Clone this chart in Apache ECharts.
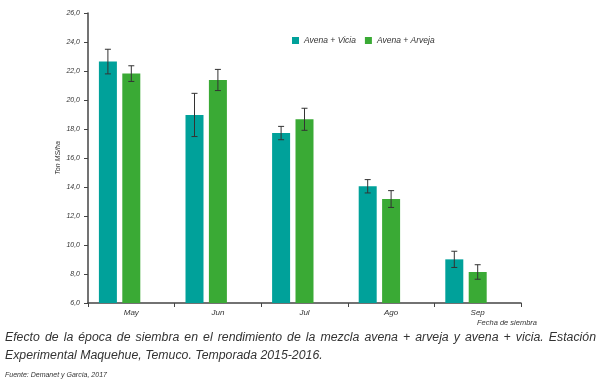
<!DOCTYPE html>
<html><head><meta charset="utf-8">
<script src="https://cdn.jsdelivr.net/npm/echarts@6/dist/echarts.min.js"></script>
<style>html,body{margin:0;padding:0;background:#fff}#c{width:600px;height:386px}</style>
</head><body><div id="c"></div>
<script>
const categories = ['May', 'Jun', 'Jul', 'Ago', 'Sep'];
const seriesNames = ['Avena + Vicia', 'Avena + Arveja'];
const vicia = [22.65, 18.97, 17.72, 14.05, 9.01];
const viciaErr = [0.85, 1.49, 0.46, 0.46, 0.56];
const arveja = [21.82, 21.38, 18.67, 13.17, 8.14];
const arvejaErr = [0.54, 0.73, 0.76, 0.58, 0.5];
const yTicks = { min: 6, max: 26, interval: 2 };
const xTitle = 'Fecha de siembra';
const yTitle = 'Ton MS/ha';
const captionLines = ['Efecto de la época de siembra en el rendimiento de la mezcla avena + arveja y avena + vicia. Estación', 'Experimental Maquehue, Temuco. Temporada 2015-2016.'];
const sourceText = 'Fuente: Demanet y García, 2017';

const FONT = '"Liberation Sans", Arial, sans-serif';
const TEAL = '#00a19a', GREEN = '#3aaa35', INK = '#333333';
const chart = echarts.init(document.getElementById('c'), null, { renderer: 'canvas' });

function errData(vals, errs) { return vals.map((v, i) => [i, v - errs[i], v + errs[i]]); }
function errSeries(vals, errs, offset) {
  return {
    type: 'custom', silent: true, z: 5,
    data: errData(vals, errs),
    encode: { x: 0, y: [1, 2] },
    renderItem: function (params, api) {
      const lo = api.coord([api.value(0), api.value(1)]);
      const hi = api.coord([api.value(0), api.value(2)]);
      const x = lo[0] + offset, c = 3;
      const st = { stroke: INK, lineWidth: 1 };
      return { type: 'group', children: [
        { type: 'line', shape: { x1: x, y1: lo[1], x2: x, y2: hi[1] }, style: st },
        { type: 'line', shape: { x1: x - c, y1: lo[1], x2: x + c, y2: lo[1] }, style: st },
        { type: 'line', shape: { x1: x - c, y1: hi[1], x2: x + c, y2: hi[1] }, style: st }
      ] };
    }
  };
}

// justified caption
const ctx = document.createElement('canvas').getContext('2d');
function justified(text, y, x0, x1, size, justify) {
  ctx.font = 'italic ' + size + 'px ' + FONT;
  const words = text.split(' ');
  const widths = words.map(w => ctx.measureText(w).width);
  const sum = widths.reduce((a, b) => a + b, 0);
  const gap = justify ? (x1 - x0 - sum) / (words.length - 1) : ctx.measureText(' ').width;
  let x = x0; const out = [];
  words.forEach((w, i) => {
    out.push({ type: 'text', left: x, top: y, style: { text: w, font: 'italic ' + size + 'px ' + FONT, fill: INK } });
    x += widths[i] + gap;
  });
  return out;
}
const graphics = [].concat(
  justified(captionLines[0], 332, 5, 596, 12.3, true),
  justified(captionLines[1], 350, 5, 596, 12.3, false),
  [{ type: 'text', left: 5, top: 372, style: { text: sourceText, font: 'italic 7px ' + FONT, fill: INK } },
   { type: 'text', left: 477, top: 319, style: { text: xTitle, font: 'italic 7.5px ' + FONT, fill: INK, textAlign: 'center' } }]
);

chart.setOption({
  animation: false,
  grid: { left: 88, right: 79, top: 13, bottom: 83 },
  legend: {
    data: seriesNames, left: 287, top: 31, itemWidth: 7, itemHeight: 7, itemGap: 9, icon: 'rect',
    textStyle: { fontFamily: FONT, fontStyle: 'italic', fontSize: 8.5, color: INK }
  },
  xAxis: {
    type: 'category', data: categories,
    axisLine: { lineStyle: { color: '#444', width: 1.5 } },
    axisTick: { show: true, alignWithLabel: false, length: 4, lineStyle: { color: '#444' } },
    axisLabel: { fontFamily: FONT, fontStyle: 'italic', fontSize: 8, color: INK, margin: 6 }
  },
  yAxis: {
    type: 'value', min: yTicks.min, max: yTicks.max, interval: yTicks.interval,
    name: yTitle, nameLocation: 'middle', nameGap: 26, nameMoveOverlap: false,
    nameTextStyle: { fontFamily: FONT, fontStyle: 'italic', fontSize: 7, color: INK },
    axisLine: { show: true, lineStyle: { color: '#444', width: 1.5 } },
    axisTick: { show: true, length: 4, lineStyle: { color: '#444' } },
    splitLine: { show: false },
    axisLabel: { fontFamily: FONT, fontStyle: 'italic', fontSize: 7, color: INK, margin: 8,
      formatter: v => v.toFixed(1).replace('.', ',') }
  },
  series: [
    { name: seriesNames[0], type: 'bar', data: vicia, barWidth: 18, barGap: '30%', itemStyle: { color: TEAL } },
    { name: seriesNames[1], type: 'bar', data: arveja, barWidth: 18, barGap: '30%', itemStyle: { color: GREEN } },
    { name: '', type: 'bar', data: [], barWidth: 18, barGap: '30%' },
    errSeries(vicia, viciaErr, -23.4),
    errSeries(arveja, arvejaErr, 0)
  ],
  graphic: graphics
});
</script></body></html>
